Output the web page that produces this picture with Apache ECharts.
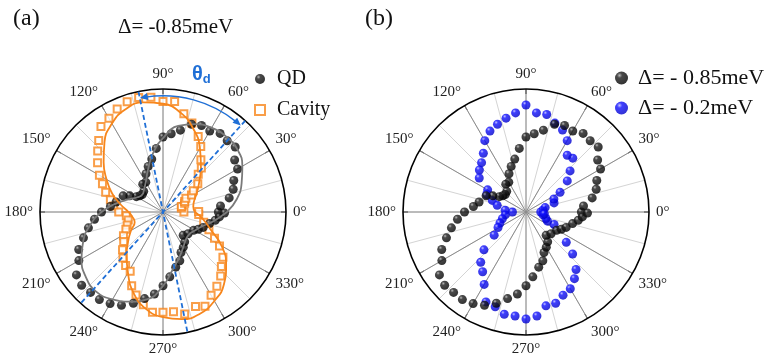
<!DOCTYPE html>
<html lang="en">
<head>
    <meta charset="UTF-8">
    <title>polar</title>
    <script src="https://cdn.jsdelivr.net/npm/echarts@6/dist/echarts.min.js"></script>
</head>
<body style="padding: 0; margin: 0; background: #fff">
<div id="main" style="width: 769px; height: 360px;"></div>
<script>
    // [angle (deg), normalized intensity]
    var qdPoints = [
        [0, 0.45], [6, 0.47], [12, 0.55], [18, 0.60], [24, 0.63], [30, 0.70], [36, 0.72], [42, 0.79],
        [48, 0.78], [54, 0.79], [60, 0.76], [66, 0.77], [72, 0.75], [78, 0.68], [84, 0.64], [90, 0.61],
        [96, 0.52], [102, 0.44], [108, 0.39], [114, 0.34], [120, 0.28], [126, 0.28], [133, 0.23],
        [140, 0.22], [145, 0.23], [150, 0.25], [154, 0.30], [158, 0.35], [168, 0.39], [174, 0.43],
        [180, 0.50], [186, 0.56], [192, 0.62], [198, 0.68], [204, 0.75], [210, 0.79], [216, 0.87],
        [222, 0.89], [228, 0.88], [234, 0.88], [240, 0.86], [246, 0.83], [252, 0.78], [258, 0.72],
        [264, 0.67], [270, 0.60], [276, 0.53], [283, 0.46], [289, 0.42], [294, 0.36], [300, 0.33],
        [306, 0.30], [311, 0.25], [319, 0.27], [329, 0.29], [334, 0.32], [339, 0.35], [346, 0.39],
        [351, 0.43], [355, 0.46], [359, 0.50]
    ];
    var qdFit = [
        [0, 0.52], [10, 0.61], [20, 0.68], [30, 0.745], [40, 0.79], [50, 0.80], [60, 0.79], [70, 0.76],
        [80, 0.71], [90, 0.60], [100, 0.48], [110, 0.36], [120, 0.28], [130, 0.24], [140, 0.22],
        [150, 0.24], [160, 0.30], [170, 0.39], [180, 0.50], [190, 0.60], [200, 0.69], [210, 0.765],
        [220, 0.82], [230, 0.845], [240, 0.82], [250, 0.775], [260, 0.72], [270, 0.60], [280, 0.47],
        [290, 0.39], [300, 0.33], [310, 0.29], [320, 0.28], [330, 0.30], [340, 0.34], [350, 0.42], [360, 0.52]
    ];
    var cavityPoints = [
        [0, 0.17], [12, 0.153], [17, 0.156], [22, 0.19], [26, 0.196], [31, 0.217], [31, 0.27], [35, 0.30],
        [39, 0.364], [47, 0.42], [49, 0.475], [54, 0.524], [60, 0.614], [65, 0.677], [72, 0.76], [78, 0.816],
        [84, 0.903], [90, 0.899], [96, 0.939], [102, 0.952], [108, 0.943], [114, 0.916], [120, 0.879],
        [126, 0.858], [132, 0.781], [137, 0.726], [143, 0.666], [150, 0.597], [155, 0.543], [161, 0.493],
        [167, 0.439], [173, 0.403], [180, 0.36], [186, 0.30], [193, 0.29], [200, 0.31], [205, 0.333],
        [211, 0.375], [217, 0.40], [223, 0.45], [229, 0.496], [235, 0.53], [241, 0.55], [247, 0.652],
        [252, 0.71], [258, 0.77], [264, 0.82], [270, 0.816], [276, 0.815], [282, 0.848], [289, 0.812],
        [294, 0.839], [300, 0.782], [306, 0.745], [312, 0.701], [317, 0.649], [323, 0.61], [329, 0.536],
        [333, 0.47], [339, 0.40], [346, 0.341], [356, 0.291], [1, 0.29]
    ];
    var cavityFit = [
        [0, 0.26], [10, 0.25], [20, 0.27], [30, 0.32], [40, 0.385], [50, 0.48], [60, 0.60], [70, 0.72],
        [80, 0.82], [90, 0.88], [100, 0.905], [110, 0.89], [120, 0.83], [130, 0.74], [140, 0.63],
        [150, 0.53], [160, 0.44], [170, 0.35], [180, 0.28], [190, 0.25], [200, 0.245], [210, 0.30],
        [220, 0.37], [230, 0.46], [240, 0.57], [250, 0.70], [260, 0.80], [270, 0.855], [280, 0.885],
        [290, 0.88], [300, 0.835], [310, 0.77], [320, 0.67], [330, 0.55], [340, 0.41], [350, 0.33], [360, 0.26]
    ];
    var blueScanPoints = [
        [0, 0.12], [7, 0.14], [13, 0.16], [18, 0.24], [25, 0.25], [30, 0.32], [37, 0.42], [43, 0.49],
        [49, 0.58], [54, 0.57], [60, 0.67], [66, 0.73], [72, 0.76], [78, 0.81], [84, 0.81], [90, 0.87],
        [96, 0.81], [102, 0.78], [108, 0.75], [114, 0.72], [120, 0.67], [126, 0.59], [132, 0.54],
        [138, 0.51], [144, 0.47], [150, 0.36], [156, 0.35], [161, 0.29], [167, 0.24], [175, 0.17],
        [180, 0.11], [188, 0.17], [196, 0.20], [203, 0.23], [209, 0.26], [216, 0.32], [222, 0.46],
        [228, 0.55], [234, 0.60], [240, 0.68], [246, 0.80], [252, 0.81], [258, 0.85], [264, 0.85],
        [270, 0.87], [276, 0.85], [282, 0.78], [288, 0.78], [294, 0.74], [300, 0.72], [306, 0.67],
        [311, 0.62], [318, 0.51], [323, 0.41], [336, 0.25], [337, 0.19], [342, 0.17], [351, 0.14], [354, 0.15]
    ];
    // dashed guide lines (angle of each diameter) and theta_d arc [radius, from, to]
    var guideAngles = [101.5, 48];
    var thetaArc = [0.945, 48, 101.5];
    var angleTicks = [0, 30, 60, 90, 120, 150, 180, 210, 240, 270, 300, 330];

    var serif = '"Liberation Serif", "Times New Roman", serif';
    var guideBlue = '#1f6fd6';
    var orange = '#f7861c';

    function polar(list) {
        return list.map(function (p) { return [p[1], p[0]]; });
    }
    function sphere(hi, mid, dark) {
        return {
            type: 'radial', x: 0.35, y: 0.3, r: 0.72,
            colorStops: [{offset: 0, color: hi}, {offset: 0.28, color: mid}, {offset: 1, color: dark}]
        };
    }
    var blackBall = sphere('#a8a8a8', '#1c1c1c', '#000');
    var blueBall = sphere('#b4b4ff', '#0f0fff', '#0000c8');

    function lightAxis(i) {
        return {
            polarIndex: i, type: 'value', min: 0, max: 360, interval: 15, startAngle: 0, clockwise: false,
            axisLine: {show: false}, axisLabel: {show: false}, axisTick: {show: false},
            splitLine: {show: true, lineStyle: {color: '#d4d4d4', width: 1}}
        };
    }
    function darkAxis(i) {
        return {
            polarIndex: i, type: 'value', min: 0, max: 360, interval: 30, startAngle: 0, clockwise: false,
            axisLine: {show: true, lineStyle: {color: '#000', width: 1.6}},
            axisTick: {show: true, inside: true, length: 5, lineStyle: {color: '#000'}},
            axisLabel: {
                show: true, margin: 7, color: '#222', fontSize: 15, fontFamily: serif,
                formatter: function (v) { return angleTicks.indexOf(v) >= 0 ? v + '°' : ''; }
            },
            splitLine: {show: true, lineStyle: {color: '#8c8c8c', width: 1}}
        };
    }
    function radAxis(i) {
        return {polarIndex: i, type: 'value', min: 0, max: 1, show: false};
    }

    function guideLine(a) {
        return {
            type: 'line', coordinateSystem: 'polar', polarIndex: 1, symbol: 'none', silent: true, z: 5,
            lineStyle: {color: guideBlue, width: 1.8, type: [5, 3]},
            data: [[1, a], [1, a + 180]]
        };
    }

    function renderArc(params, api) {
        var r = api.value(0), a1 = api.value(1), a2 = api.value(2);
        var c = api.coord([0, 0]);
        var p1 = api.coord([r, a1]);
        var p2 = api.coord([r, a2]);
        var R = Math.hypot(p1[0] - c[0], p1[1] - c[1]);
        var rad = Math.PI / 180;
        function head(p, dirDeg) {
            var dx = Math.cos(dirDeg * rad), dy = -Math.sin(dirDeg * rad);
            var L = 8, W = 3.5;
            var bx = p[0] - dx * L, by = p[1] - dy * L;
            return {
                type: 'polygon',
                shape: {points: [[p[0], p[1]], [bx - dy * W, by + dx * W], [bx + dy * W, by - dx * W]]},
                style: {fill: guideBlue}
            };
        }
        return {
            type: 'group',
            children: [
                {
                    type: 'arc',
                    shape: {cx: c[0], cy: c[1], r: R, startAngle: -a2 * rad + 0.05, endAngle: -a1 * rad - 0.05, clockwise: true},
                    style: {stroke: guideBlue, lineWidth: 1.4, fill: null}
                },
                head(p1, a1 - 90),
                head(p2, a2 + 90)
            ]
        };
    }

    var myChart = echarts.init(document.getElementById('main'));
    var option = {
        animation: false,
        backgroundColor: '#fff',
        title: [
            {text: '(a)', left: 8, top: 2, textStyle: {fontSize: 24, fontWeight: 'normal', fontFamily: serif, color: '#111'}},
            {text: '(b)', left: 360, top: 2, textStyle: {fontSize: 24, fontWeight: 'normal', fontFamily: serif, color: '#111'}},
            {text: 'Δ= -0.85meV', left: 113, top: 12, textStyle: {fontSize: 21, fontWeight: 'normal', fontFamily: serif, color: '#111'}},
            {
                text: '{t|θ}{s|d}', left: 187, top: 58,
                textStyle: {
                    rich: {
                        t: {fontSize: 20, fontWeight: 'bold', color: guideBlue, fontFamily: 'Arial, "Liberation Sans", sans-serif'},
                        s: {fontSize: 13, fontWeight: 'bold', color: guideBlue, fontFamily: 'Arial, "Liberation Sans", sans-serif', padding: [10, 0, 0, 0]}
                    }
                }
            }
        ],
        legend: [
            {
                orient: 'vertical', left: 249, top: 64, itemWidth: 10, itemHeight: 10, itemGap: 11,
                data: ['QD', 'Cavity'],
                textStyle: {fontSize: 20, fontFamily: serif, color: '#111', padding: [0, 0, 0, 7]}
            },
            {
                orient: 'vertical', left: 610, top: 62, itemWidth: 13, itemHeight: 13, itemGap: 8,
                data: ['Δ= - 0.85meV', 'Δ= - 0.2meV'],
                textStyle: {fontSize: 22, fontFamily: serif, color: '#111', padding: [0, 0, 0, 5]}
            }
        ],
        polar: [
            {center: [163, 212], radius: 123},
            {center: [163, 212], radius: 123},
            {center: [526, 212], radius: 123},
            {center: [526, 212], radius: 123}
        ],
        angleAxis: [lightAxis(0), darkAxis(1), lightAxis(2), darkAxis(3)],
        radiusAxis: [radAxis(0), radAxis(1), radAxis(2), radAxis(3)],
        series: [
            {
                name: 'QD fit', type: 'line', coordinateSystem: 'polar', polarIndex: 1, smooth: 0.5,
                symbol: 'none', lineStyle: {color: '#7a7a7a', width: 1.8}, data: polar(qdFit)
            },
            {
                name: 'Cavity fit', type: 'line', coordinateSystem: 'polar', polarIndex: 1, smooth: 0.5,
                symbol: 'none', lineStyle: {color: orange, width: 1.8}, data: polar(cavityFit)
            },
            {
                name: 'Cavity', type: 'scatter', coordinateSystem: 'polar', polarIndex: 1,
                symbol: 'emptyRect', symbolSize: 7,
                itemStyle: {color: orange, borderColor: orange, borderWidth: 1.2},
                data: polar(cavityPoints)
            },
            {
                name: 'QD', type: 'scatter', coordinateSystem: 'polar', polarIndex: 1,
                symbol: 'circle', symbolSize: 9, itemStyle: {color: blackBall},
                data: polar(qdPoints)
            },
            guideLine(guideAngles[0]),
            guideLine(guideAngles[1]),
            {
                type: 'custom', coordinateSystem: 'polar', polarIndex: 1, silent: true, z: 6,
                renderItem: renderArc, encode: {radius: 0, angle: 1},
                data: [thetaArc]
            },
            {
                name: 'Δ= - 0.2meV', type: 'scatter', coordinateSystem: 'polar', polarIndex: 3,
                symbol: 'circle', symbolSize: 9, itemStyle: {color: blueBall},
                data: polar(blueScanPoints)
            },
            {
                name: 'Δ= - 0.85meV', type: 'scatter', coordinateSystem: 'polar', polarIndex: 3,
                symbol: 'circle', symbolSize: 9, itemStyle: {color: blackBall},
                data: polar(qdPoints)
            }
        ]
    };
    myChart.setOption(option);
</script>
</body>
</html>
